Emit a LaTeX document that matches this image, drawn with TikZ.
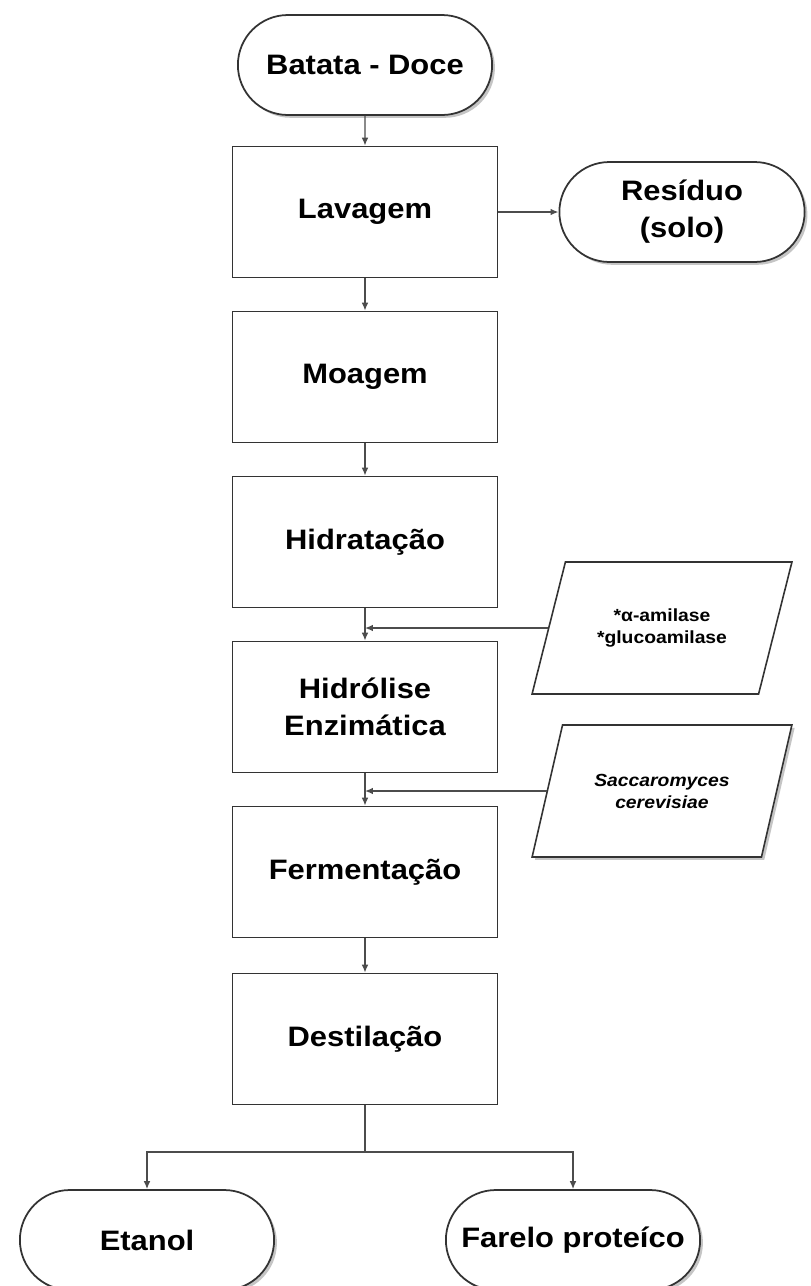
\documentclass[tikz,border=0pt]{standalone}
\usepackage{fontspec}
\setmainfont{Liberation Sans}[FakeStretch=1.1]
\usetikzlibrary{shapes.geometric,shapes.misc,arrows.meta,shadows,positioning}

\begin{document}
\begin{tikzpicture}[x=0.02cm, y=-0.02cm,
		proc/.style={rectangle, draw=black!80, line width=1pt,
			minimum width=5.3cm, minimum height=2.62cm, align=center,
			font=\fontsize{16}{21}\selectfont\bfseries},
		term/.style={rounded rectangle, draw=black!80, line width=1pt, fill=white,
			minimum width=5.32cm, minimum height=2cm, align=center,
			font=\fontsize{16}{21}\selectfont\bfseries,
			drop shadow={shadow xshift=1.6pt, shadow yshift=-1.6pt, fill=black!45}},
		inp/.style={trapezium, trapezium left angle=64, trapezium right angle=116,
			trapezium stretches=true, draw=black!80, line width=0.9pt, fill=white,
			minimum width=5.2cm, minimum height=2.64cm, align=center,
			font=\fontsize{10}{12.5}\selectfont\bfseries},
		arr/.style={-{Latex[length=4.5pt, width=3.8pt]}, line width=0.8pt, black!70},
		ln/.style={line width=0.8pt, black!70}]
	\useasboundingbox (0,0) rectangle (811,1286);
	
	% Main line
	\node[term] (batata) at (365,65) {Batata - Doce};
	\node[proc] (lav) at (365,212) {Lavagem};
	\node[term, minimum width=5.14cm] (res) at (682,212) {Resíduo\\(solo)};
	\node[proc] (moa) at (365,377) {Moagem};
	\node[proc] (hidr) at (365,542) {Hidratação};
	\node[proc] (hidro) at (365,707) {Hidrólise\\Enzimática};
	\node[proc] (ferm) at (365,872) {Fermentação};
	\node[proc] (dest) at (365,1039) {Destilação};
	
	% Inputs
	\node[inp] (enz) at (662,628) {*α-amilase\\*glucoamilase};
	\node[inp, drop shadow={shadow xshift=1.6pt, shadow yshift=-1.6pt, fill=black!45}]
		(lev) at (662,791) {\itshape Saccaromyces\\\itshape cerevisiae};
	
	% Products
	\node[term] (etanol) at (147,1240) {Etanol};
	\node[term] (farelo) at (573,1240) {Farelo proteíco};
	\coordinate (split) at (365,1152);
	
	% Arrows
	\draw[arr] (batata) -- (lav);
	\draw[arr] (lav) -- (res);
	\draw[arr] (lav) -- (moa);
	\draw[arr] (moa) -- (hidr);
	\draw[arr] (hidr) -- (hidro);
	\draw[arr] (hidro) -- (ferm);
	\draw[arr] (ferm) -- (dest);
	\draw[arr] (enz.west) -- (enz.west -| hidr.south);
	\draw[arr] (lev.west) -- (lev.west -| ferm.north);
	\draw[ln] (dest) -- (split);
	\draw[arr] (split) -| (etanol);
	\draw[arr] (split) -| (farelo);
\end{tikzpicture}
\end{document}
